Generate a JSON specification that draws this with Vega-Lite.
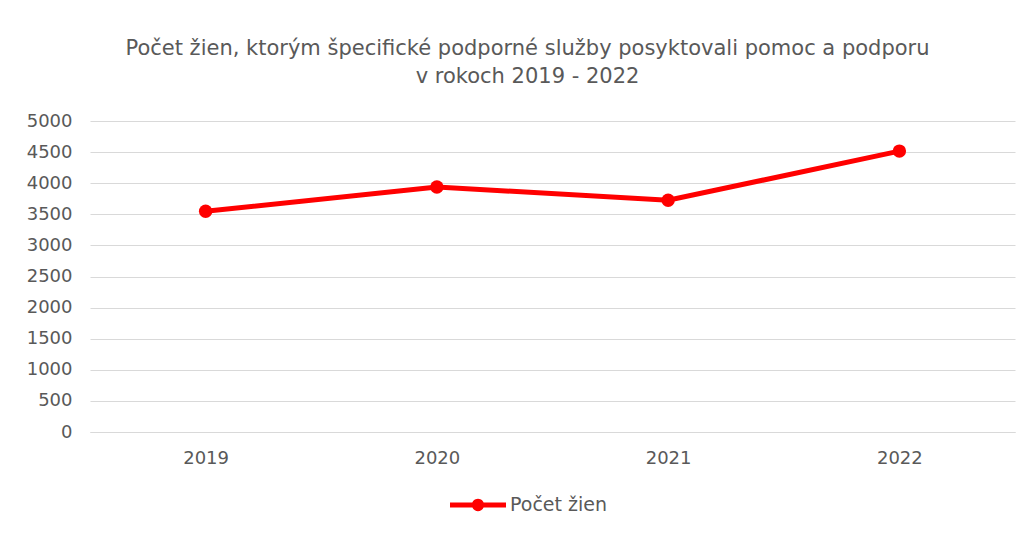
{
  "$schema": "https://vega.github.io/schema/vega-lite/v6.json",
  "autosize": {"type": "none"},
  "width": 925,
  "height": 311,
  "padding": {"left": 90, "top": 121, "right": 15, "bottom": 102},
  "background": "white",
  "config": {
    "view": {"stroke": null},
    "font": "DejaVu Sans"
  },
  "title": {
    "text": ["Počet žien, ktorým špecifické podporné služby posyktovali pomoc a podporu", "v rokoch 2019 - 2022"],
    "fontSize": 21,
    "fontWeight": "normal",
    "color": "#595959",
    "lineHeight": 28,
    "anchor": "middle",
    "dx": -25,
    "offset": 25,
    "font": "DejaVu Sans"
  },
  "data": {
    "values": [
      {"rok": "2019", "pocet": 3548, "seria": "Počet žien"},
      {"rok": "2020", "pocet": 3940, "seria": "Počet žien"},
      {"rok": "2021", "pocet": 3725, "seria": "Počet žien"},
      {"rok": "2022", "pocet": 4516, "seria": "Počet žien"}
    ]
  },
  "mark": {
    "type": "line",
    "strokeWidth": 5,
    "point": {"filled": true, "size": 180, "color": "#ff0000", "opacity": 1}
  },
  "encoding": {
    "x": {
      "field": "rok",
      "type": "ordinal",
      "scale": {"type": "point", "padding": 0.5},
      "axis": {
        "title": null,
        "labelAngle": 0,
        "labelFontSize": 18,
        "labelColor": "#595959",
        "labelPadding": 17,
        "ticks": false,
        "domain": true,
        "domainColor": "#d9d9d9",
        "grid": false
      }
    },
    "y": {
      "field": "pocet",
      "type": "quantitative",
      "scale": {"domain": [0, 5000], "nice": false},
      "axis": {
        "title": null,
        "format": "d",
        "values": [0, 500, 1000, 1500, 2000, 2500, 3000, 3500, 4000, 4500, 5000],
        "labelFontSize": 18,
        "labelColor": "#595959",
        "labelPadding": 18,
        "ticks": false,
        "domain": false,
        "grid": true,
        "gridColor": "#d9d9d9",
        "gridWidth": 1
      }
    },
    "color": {
      "field": "seria",
      "type": "nominal",
      "scale": {"range": ["#ff0000"]},
      "legend": {
        "title": null,
        "orient": "none",
        "legendX": 360,
        "legendY": 356,
        "symbolType": "M-1,-0.09 L1,-0.09 L1,0.09 L-1,0.09 Z M-0.22,0 A0.22,0.22 0 1,1 0.22,0 A0.22,0.22 0 1,1 -0.22,0 Z",
        "symbolSize": 3136,
        "symbolFillColor": "#ff0000",
        "symbolStrokeWidth": 0,
        "symbolOpacity": 1,
        "labelFontSize": 19,
        "labelColor": "#595959",
        "labelOffset": 4,
        "font": "DejaVu Sans"
      }
    }
  }
}
